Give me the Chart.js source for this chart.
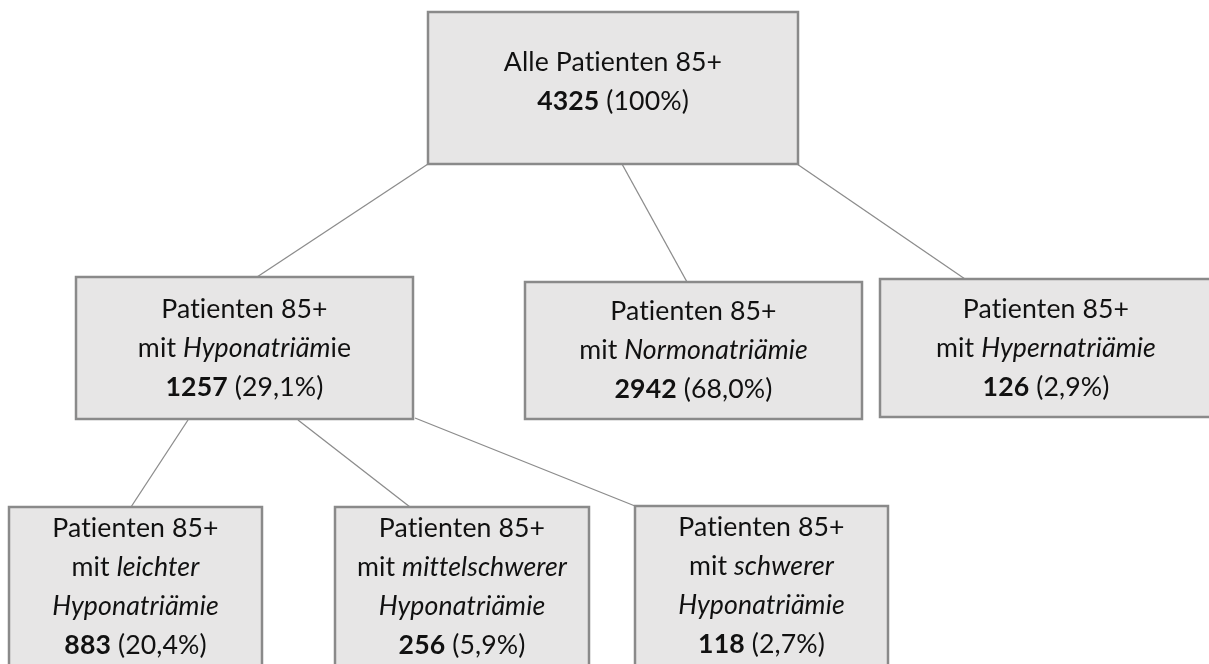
<!DOCTYPE html>
<html lang="de">
<head>
<meta charset="UTF-8">
<title>Patienten 85+ nach Natriämie</title>
<script src="https://cdn.jsdelivr.net/npm/chart.js"></script>
<style>
  html, body { margin: 0; padding: 0; background: #fff; }
  #wrap { position: relative; width: 1209px; height: 664px; }
</style>
</head>
<body>
<div id="wrap"><canvas id="tree" width="1209" height="664"></canvas></div>
<script>
// Knoten (Werte)
const nodeTitle = ['Alle Patienten 85+', 'Patienten 85+', 'Patienten 85+', 'Patienten 85+',
                   'Patienten 85+', 'Patienten 85+', 'Patienten 85+'];
const nodeGroup = [null, 'Hyponatriäm|ie', 'Normonatriämie', 'Hypernatriämie',
                   'leichter', 'mittelschwerer', 'schwerer'];
const nodeCount = [4325, 1257, 2942, 126, 883, 256, 118];
const nodeShare = ['100%', '29,1%', '68,0%', '2,9%', '20,4%', '5,9%', '2,7%'];
const nodeParent = [null, 0, 0, 0, 1, 1, 1];

// Layout: Boxen [x1, y1, x2, y2] im Koordinatensystem der Skalen
const boxes = [
  [428, 12, 798, 164],
  [76, 277, 413, 419],
  [525, 282, 862, 419],
  [880, 279, 1212, 417],
  [9, 507, 262, 666],
  [335, 507, 589, 666],
  [635, 506, 888, 666]
];
const textShift = [-6, 0, 0, 0, 0, 0, 0];
// Verbindungslinien: Start (am Elternknoten) und Ende (am Kindknoten), je Kind
const edgeStart = [null, [428, 164], [622, 164], [797, 164], [188, 420], [298, 420], [415, 418]];
const edgeEnd   = [null, [257, 277], [687, 282], [965, 279], [131, 507], [410, 507], [635, 506]];

const FONT = 'Lato, "Open Sans", sans-serif';
const LINE_H = 39;
const SPACING = '0.1px'; // verhindert die ti-Ligatur

function fontSize() {
  const c = document.createElement('canvas').getContext('2d');
  c.font = '100px ' + FONT;
  return 100 * 217 / c.measureText('Alle Patienten 85+').width;
}
const FS = fontSize();

// Zeilen eines Knotens als Runs [text, stil]
function nodeLines(i) {
  const lines = [[[nodeTitle[i], '']]];
  const g = nodeGroup[i];
  if (g) {
    if (i >= 4) {
      lines.push([['mit ', ''], [g, 'italic']]);
      lines.push([['Hyponatriämie', 'italic']]);
    } else {
      const parts = g.split('|');
      const runs = [['mit ', ''], [parts[0], 'italic']];
      if (parts[1]) runs.push([parts[1], '']);
      lines.push(runs);
    }
  }
  lines.push([[String(nodeCount[i]), 'bold'], [' (' + nodeShare[i] + ')', '']]);
  return lines;
}

const boxPlugin = {
  id: 'boxes',
  afterDatasetsDraw(chart) {
    const { ctx, scales: { x, y } } = chart;
    ctx.save();
    if ('letterSpacing' in ctx) ctx.letterSpacing = SPACING;
    boxes.forEach((b, i) => {
      const px1 = x.getPixelForValue(b[0]), px2 = x.getPixelForValue(b[2]);
      const py1 = y.getPixelForValue(b[1]), py2 = y.getPixelForValue(b[3]);
      ctx.fillStyle = '#e7e6e6';
      ctx.fillRect(px1, py1, px2 - px1, py2 - py1);
      ctx.strokeStyle = '#8a8a8a';
      ctx.lineWidth = 2.5;
      ctx.strokeRect(px1, py1, px2 - px1, py2 - py1);

      const lines = nodeLines(i);
      const cx = (px1 + px2) / 2, cy = (py1 + py2) / 2 + textShift[i];
      const top = cy - (lines.length - 1) * LINE_H / 2;
      ctx.fillStyle = '#111';
      ctx.textBaseline = 'middle';
      ctx.textAlign = 'left';
      lines.forEach((runs, k) => {
        let w = 0;
        runs.forEach(r => { ctx.font = r[1] + ' ' + FS + 'px ' + FONT; w += ctx.measureText(r[0]).width; });
        let sx = cx - w / 2;
        runs.forEach(r => {
          ctx.font = r[1] + ' ' + FS + 'px ' + FONT;
          ctx.fillText(r[0], sx, top + k * LINE_H);
          sx += ctx.measureText(r[0]).width;
        });
      });
    });
    ctx.restore();
  }
};

const edgeSets = [];
nodeParent.forEach((p, i) => {
  if (p === null) return;
  edgeSets.push({
    data: [{ x: edgeStart[i][0], y: edgeStart[i][1] }, { x: edgeEnd[i][0], y: edgeEnd[i][1] }],
    borderColor: '#8c8c8c',
    borderWidth: 1.3,
    pointRadius: 0,
    fill: false
  });
});

new Chart(document.getElementById('tree'), {
  type: 'line',
  data: { datasets: edgeSets },
  options: {
    responsive: false,
    animation: false,
    layout: { padding: 0 },
    scales: {
      x: { type: 'linear', min: 0, max: 1209, display: false },
      y: { type: 'linear', min: 0, max: 664, reverse: true, display: false }
    },
    plugins: { legend: { display: false }, tooltip: { enabled: false } }
  },
  plugins: [boxPlugin]
});
</script>
</body>
</html>
